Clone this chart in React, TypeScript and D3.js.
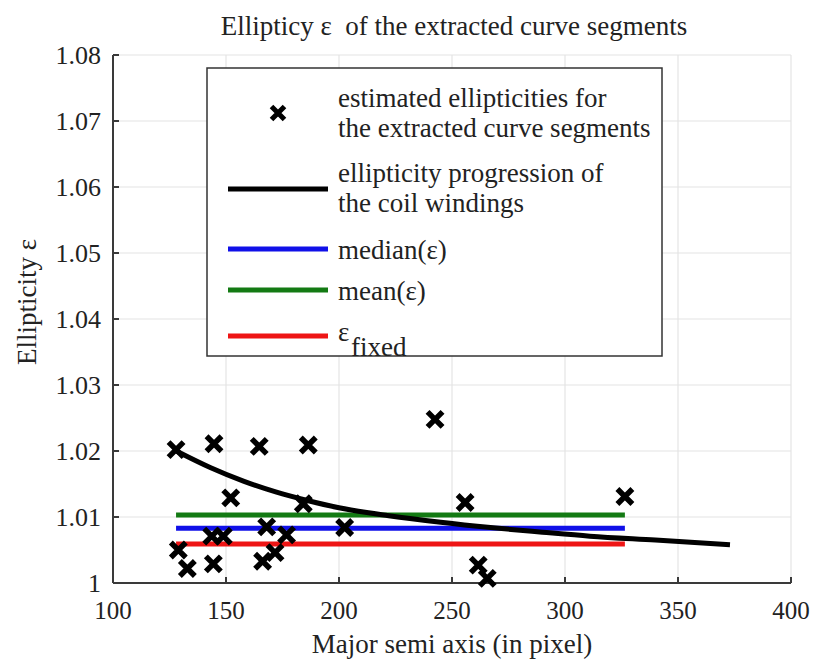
import React from 'react';
import * as d3 from 'd3';

// x ticks / y ticks
const xTicks = [100, 150, 200, 250, 300, 350, 400];
const yTicks = [1, 1.01, 1.02, 1.03, 1.04, 1.05, 1.06, 1.07, 1.08];

// estimated ellipticities for the extracted curve segments
const segX = [127.9, 144.7, 164.7, 186.4, 152.1, 184.2, 168.0, 202.5, 143.7, 148.8, 176.8, 128.9, 132.9, 144.4, 166.2, 171.7, 242.5, 255.8, 261.6, 265.6, 326.5];
const segY = [1.0202, 1.0211, 1.0207, 1.0209, 1.0129, 1.0120, 1.0085, 1.0084, 1.0071, 1.0071, 1.0073, 1.0050, 1.0022, 1.0029, 1.0033, 1.0046, 1.0248, 1.0122, 1.0027, 1.0007, 1.0131];

// ellipticity progression of the coil windings
const coilX = [128, 143, 158, 172, 186, 200, 222, 245, 267, 290, 311, 340, 373];
const coilY = [1.0200, 1.0175, 1.0154, 1.0138, 1.0125, 1.0114, 1.0102, 1.0092, 1.0084, 1.0077, 1.0071, 1.0065, 1.0058];

// constant levels, drawn over the range of the segments
const levelNames = ['median', 'mean', 'fixed'];
const levelValues = [1.0083, 1.0103, 1.0059];
const levelColors = ['#1010e8', '#137a13', '#ee1515'];

const FONT = '"Liberation Serif", "Times New Roman", Times, serif';
const txt = { fontFamily: FONT };

const margin = { left: 113, right: 23, top: 55, bottom: 78 };
const W = 814;
const H = 661;

const x = d3.scaleLinear().domain([100, 400]).range([margin.left, W - margin.right]);
const y = d3.scaleLinear().domain([1, 1.08]).range([H - margin.bottom, margin.top]);

const cross = (cx: number, cy: number, r: number) =>
  `M${cx - r},${cy - r}L${cx + r},${cy + r}M${cx - r},${cy + r}L${cx + r},${cy - r}`;

export default function App() {
  const line = d3.line<number>().x((_, i) => x(coilX[i])).y(d => y(d)).curve(d3.curveMonotoneX);
  const xmin = d3.min(segX)!;
  const xmax = d3.max(segX)!;
  const [x0, x1] = x.range();
  const [y0, y1] = y.range();

  return (
    <svg width={W} height={H} style={{ position: 'absolute', left: 0, top: 0, background: '#fff' }}>
      {/* grid */}
      {xTicks.slice(1).map(t => (
        <line key={'gx' + t} x1={x(t)} x2={x(t)} y1={y0} y2={y1} stroke="#e4e4e4" strokeWidth={1.2} />
      ))}
      {yTicks.slice(1).map(t => (
        <line key={'gy' + t} x1={x0} x2={x1} y1={y(t)} y2={y(t)} stroke="#e4e4e4" strokeWidth={1.2} />
      ))}

      {/* axes */}
      <line x1={x0} x2={x1} y1={y0} y2={y0} stroke="#3a3a3a" strokeWidth={2} />
      <line x1={x0} x2={x0} y1={y0} y2={y1} stroke="#3a3a3a" strokeWidth={2} />
      {xTicks.map(t => (
        <g key={'tx' + t}>
          <line x1={x(t)} x2={x(t)} y1={y0} y2={y0 - 6} stroke="#3a3a3a" strokeWidth={2} />
          <text x={x(t)} y={y0 + 36} fontSize={25} textAnchor="middle" fill="#222" style={txt}>{t}</text>
        </g>
      ))}
      {yTicks.map(t => (
        <g key={'ty' + t}>
          <line x1={x0} x2={x0 + 6} y1={y(t)} y2={y(t)} stroke="#3a3a3a" strokeWidth={2} />
          <text x={x0 - 12} y={y(t) + 9} fontSize={26} textAnchor="end" fill="#222" style={txt}>{d3.format('~g')(t)}</text>
        </g>
      ))}

      {/* levels */}
      {levelValues.map((v, i) => (
        <line key={levelNames[i]} x1={x(xmin)} x2={x(xmax)} y1={y(v)} y2={y(v)} stroke={levelColors[i]} strokeWidth={5} />
      ))}

      {/* coil curve */}
      <path d={line(coilY) || ''} fill="none" stroke="#000" strokeWidth={5} />

      {/* segment markers */}
      {segX.map((sx, i) => (
        <path key={'m' + i} d={cross(x(sx), y(segY[i]), 7.5)} stroke="#000" strokeWidth={5.5} fill="none" />
      ))}

      {/* titles */}
      <text x={454} y={35} fontSize={27} textAnchor="middle" fill="#222" style={{ ...txt, whiteSpace: 'pre' }}>
        {'Ellipticy ε  of the extracted curve segments'}
      </text>
      <text x={452} y={653} fontSize={27} textAnchor="middle" fill="#222" style={txt}>Major semi axis (in pixel)</text>
      <text transform="translate(36,302) rotate(-90)" fontSize={27} textAnchor="middle" fill="#222" style={txt}>Ellipticity ε</text>

      {/* legend */}
      <g fontSize={27} fill="#222" style={txt}>
        <rect x={207} y={68} width={455} height={288} fill="#fff" stroke="#333" strokeWidth={1.5} />
        <path d={cross(278, 113, 6.5)} stroke="#000" strokeWidth={5} fill="none" />
        <text x={338} y={107} style={txt}>estimated ellipticities for</text>
        <text x={338} y={137} style={txt}>the extracted curve segments</text>
        <line x1={228} x2={328} y1={189} y2={189} stroke="#000" strokeWidth={5} />
        <text x={338} y={182} style={txt}>ellipticity progression of</text>
        <text x={338} y={212} style={txt}>the coil windings</text>
        <line x1={228} x2={328} y1={249} y2={249} stroke={levelColors[0]} strokeWidth={5} />
        <text x={338} y={259} style={txt}>median(ε)</text>
        <line x1={228} x2={328} y1={290} y2={290} stroke={levelColors[1]} strokeWidth={5} />
        <text x={338} y={300} style={txt}>mean(ε)</text>
        <line x1={228} x2={328} y1={336} y2={336} stroke={levelColors[2]} strokeWidth={5} />
        <text x={338} y={341} style={txt}>ε</text>
        <text x={351} y={356} style={txt}>fixed</text>
      </g>
    </svg>
  );
}
